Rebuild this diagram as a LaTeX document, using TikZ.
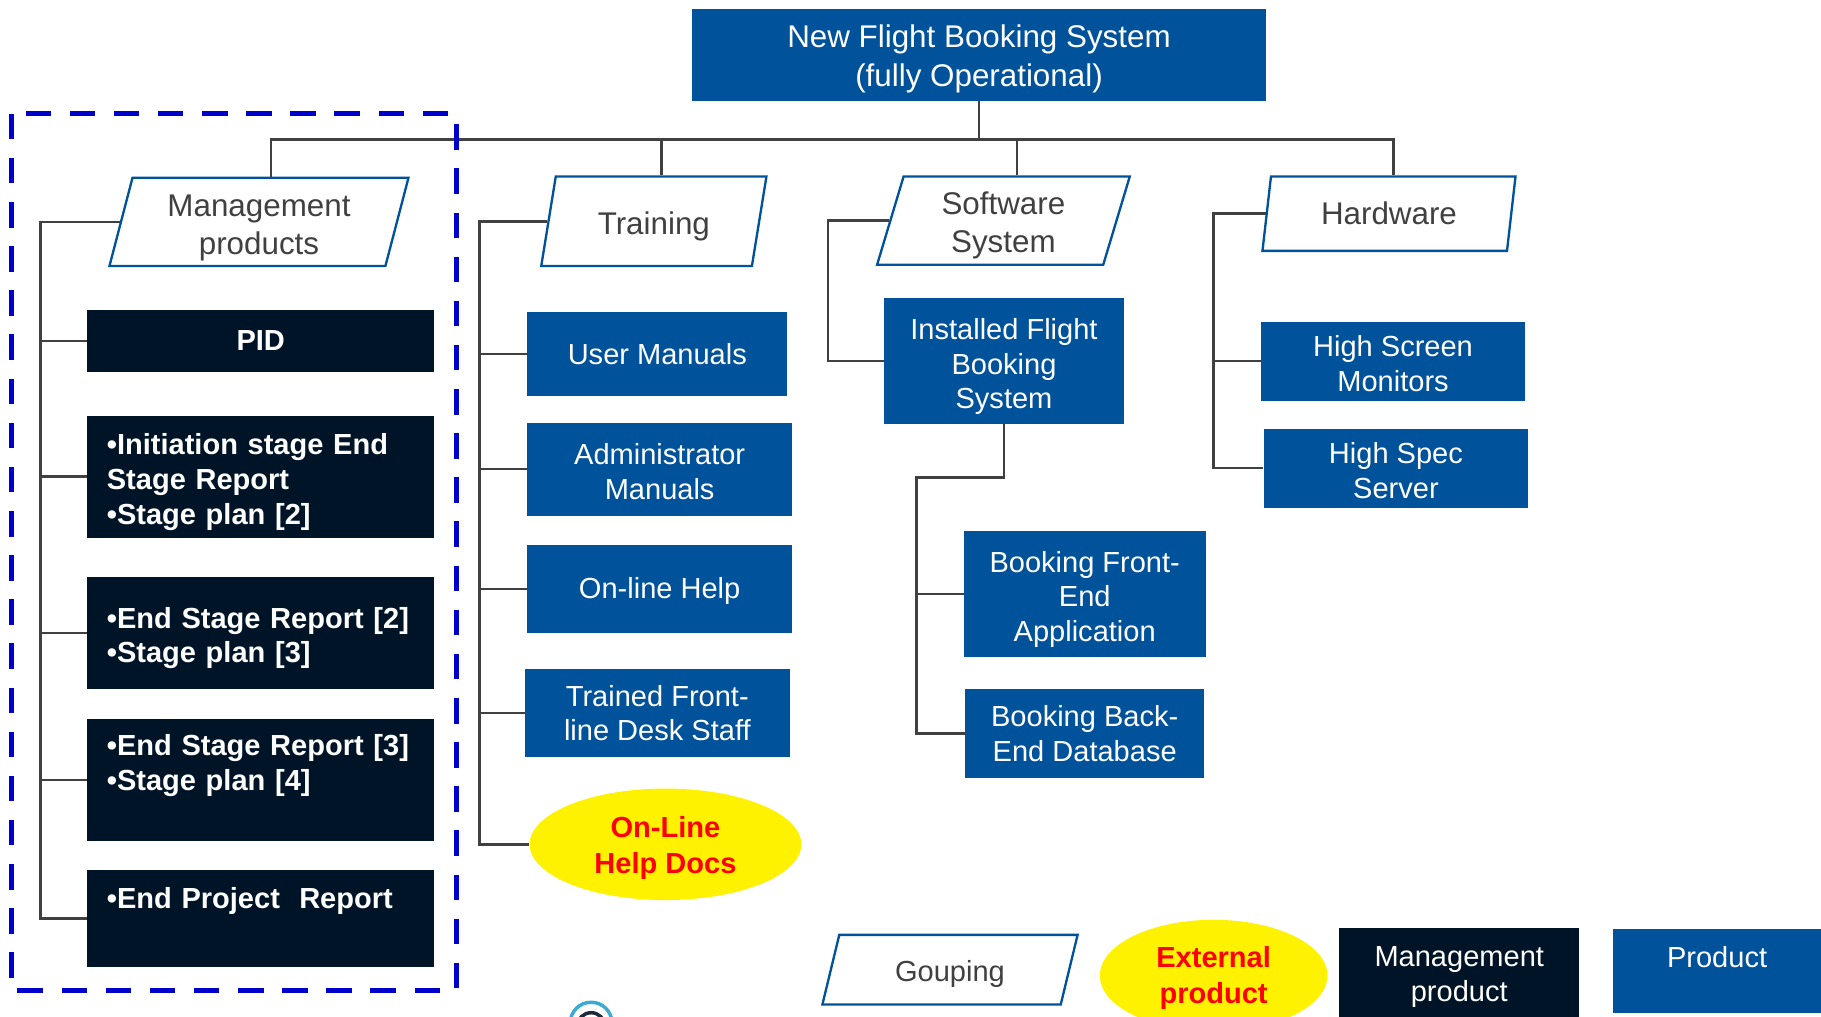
\documentclass[tikz,border=0pt]{standalone}
\usepackage{fontspec}
\setmainfont{Liberation Sans}
\usetikzlibrary{shapes.geometric, positioning}

\definecolor{prodblue}{RGB}{0,82,155}
\definecolor{mgmtnavy}{RGB}{0,20,40}
\definecolor{linegray}{RGB}{64,64,64}
\definecolor{frameblue}{RGB}{0,0,204}
\definecolor{logoblue}{RGB}{60,170,210}
\definecolor{logonavy}{RGB}{30,40,60}

% taller first line, pushes the text block down a little
\newcommand{\dropstrut}[1]{\rule{0pt}{#1}}

\begin{document}
\begin{tikzpicture}[
    x=1pt, y=-1pt,
    product/.style={rectangle, fill=prodblue, text=white, inner sep=0pt, align=center,
                    font=\fontsize{25}{30}\selectfont},
    mproduct/.style={rectangle, fill=mgmtnavy, text=white, inner xsep=17pt, inner ysep=0pt,
                     text width=265pt, align=left, font=\bfseries\fontsize{25}{30}\selectfont},
    grouping/.style={trapezium, trapezium left angle=78, trapezium right angle=102,
                     trapezium stretches=true, draw=prodblue, line width=2pt, fill=white,
                     text=linegray, inner sep=0pt, align=center, font=\fontsize{27}{33}\selectfont},
    external/.style={ellipse, fill=yellow, text=red, inner sep=0pt, align=center,
                     font=\bfseries\fontsize{25}{31}\selectfont},
    conn/.style={linegray, line width=2.2pt},
]
\useasboundingbox (0,0) rectangle (1568,875);

% top of the breakdown
\node[product, minimum width=494pt, minimum height=79pt, font=\fontsize{27}{34}\selectfont]
    (root) at (843,47.5) {\dropstrut{26pt}New Flight Booking System\\(fully Operational)};

% groupings
\node[grouping, minimum width=258pt, minimum height=76pt] (mgmt) at (223,191) {\dropstrut{29pt}Management\\products};
\node[grouping, minimum width=194pt, minimum height=77pt] (train) at (563,190.5) {\dropstrut{28pt}Training};
\node[grouping, minimum width=218pt, minimum height=76pt] (soft) at (864,190) {\dropstrut{28pt}Software\\System};
\node[grouping, minimum width=218pt, minimum height=64pt] (hw) at (1196,184) {Hardware};

% management products
\node[mproduct, align=center, minimum height=53pt] (pid) at (224.5,293.5) {PID};
\node[mproduct, minimum height=105pt] (mrep1) at (224.5,410.5)
    {\dropstrut{27.5pt}•Initiation stage End\\Stage Report\\•Stage plan [2]};
\node[mproduct, minimum height=96pt] (mrep2) at (224.5,545)
    {\dropstrut{27pt}•End Stage Report [2]\\•Stage plan [3]};
\node[mproduct, minimum height=105pt] (mrep3) at (224.5,671.5)
    {•End Stage Report [3]\\•Stage plan [4]\\\mbox{}};
\node[mproduct, minimum height=84pt] (mproj) at (224.5,791)
    {•End Project~ Report\\[6pt]\mbox{}};

% training
\node[product, minimum width=224pt, minimum height=72pt] (usrman) at (566,305) {User Manuals};
\node[product, minimum width=228pt, minimum height=80pt] (admman) at (568,404) {\dropstrut{22pt}Administrator\\Manuals};
\node[product, minimum width=228pt, minimum height=76pt] (olhelp) at (568,507) {\dropstrut{22pt}On-line Help};
\node[product, minimum width=228pt, minimum height=76pt] (trstaff) at (566,614) {Trained Front-\\line Desk Staff};
\node[external, minimum width=234pt, minimum height=96pt] (helpdocs) at (573,727) {\dropstrut{24.5pt}On-Line\\Help Docs};

% software
\node[product, minimum width=207pt, minimum height=108pt] (inst) at (864.5,311) {\dropstrut{27.5pt}Installed Flight\\Booking\\System};
\node[product, minimum width=208pt, minimum height=109pt] (bfront) at (934,511.5) {\dropstrut{27.5pt}Booking Front-\\End\\Application};
\node[product, minimum width=206pt, minimum height=77pt] (bback) at (934,631.5) {Booking Back-\\End Database};

% hardware
\node[product, minimum width=227pt, minimum height=68pt] (hsmon) at (1199.5,311) {\dropstrut{22pt}High Screen\\Monitors};
\node[product, minimum width=228pt, minimum height=68pt] (hsserv) at (1202,403) {\dropstrut{22pt}High Spec\\Server};

% connectors
\coordinate (bus) at (843,120);
\foreach \g in {mgmt, train, soft, hw}
    \draw[conn] (root.south) -- (bus) -| (\g.top side);

\coordinate (mgtrunk) at (35,0);
\draw[conn] (mgmt.left side) -| (mgtrunk |- mproj.west) -- (mproj.west);
\foreach \b in {pid, mrep1, mrep2, mrep3}
    \draw[conn] (mgtrunk |- \b.west) -- (\b.west);

\coordinate (trtrunk) at (413,0);
\draw[conn] (train.left side) -| (trtrunk |- helpdocs.west) -- (helpdocs.west);
\foreach \b in {usrman, admman, olhelp, trstaff}
    \draw[conn] (trtrunk |- \b.west) -- (\b.west);

\coordinate (swtrunk) at (713,0);
\draw[conn] (soft.left side) -| (swtrunk |- inst.west) -- (inst.west);
\coordinate (swtrunk2) at (789,411);
\draw[conn] (inst.south) |- (swtrunk2) |- (bback.west);
\draw[conn] (swtrunk2 |- bfront.west) -- (bfront.west);

\coordinate (hwtrunk) at (1045,0);
\draw[conn] (hw.left side) -| (hwtrunk |- hsserv.west) -- (hsserv.west);
\draw[conn] (hwtrunk |- hsmon.west) -- (hsmon.west);

% management products frame
\draw[frameblue, line width=4pt, dash pattern=on 22pt off 16pt] (10,98) rectangle (393,853);

% legend
\node[grouping, trapezium left angle=77, trapezium right angle=103, minimum width=220pt,
      minimum height=60pt, font=\fontsize{25}{30}\selectfont] (lgroup) at (818,835) {\dropstrut{26pt}Gouping};
\node[external, minimum width=196pt, minimum height=96pt] (lext) at (1045,840) {\dropstrut{23pt}External\\product};
\node[product, fill=mgmtnavy, minimum width=207pt, minimum height=78pt] (lmgmt) at (1256.5,838) {\dropstrut{24pt}Management\\product};
\node[product, minimum width=179pt, minimum height=72pt] (lprod) at (1478.5,836) {\dropstrut{24pt}Product\\\mbox{}};

% cut-off logo
\draw[logoblue, line width=3pt] (491,881) arc[start angle=180, end angle=360, radius=18];
\draw[logonavy, line width=3pt] (497,884) arc[start angle=180, end angle=360, radius=12];
\end{tikzpicture}
\end{document}
